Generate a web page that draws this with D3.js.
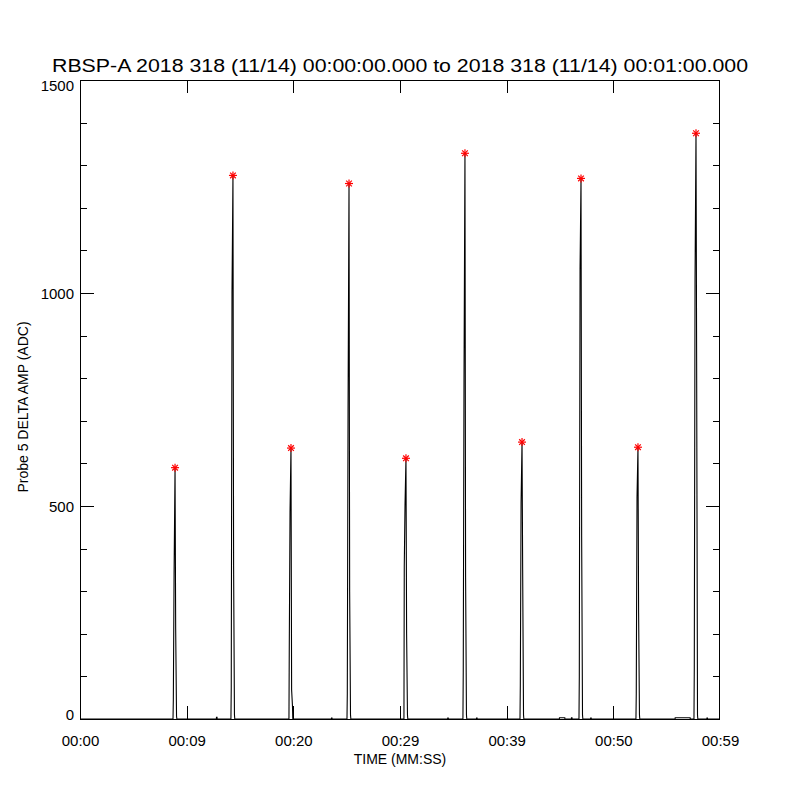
<!DOCTYPE html>
<html>
<head>
<meta charset="utf-8">
<script src="https://cdn.jsdelivr.net/npm/d3@7"></script>
<style>
  html, body { margin: 0; padding: 0; background: #fff; }
  svg text { font-family: "Liberation Sans", Arial, sans-serif; fill: #000; }
</style>
</head>
<body>
<svg id="chart" width="800" height="800"></svg>
<script>
// ---- Data ----
const titleText = "RBSP-A 2018 318 (11/14) 00:00:00.000 to 2018 318 (11/14) 00:01:00.000";
const xLabel = "TIME (MM:SS)";
const yLabel = "Probe 5 DELTA AMP (ADC)";

const xTickValues = [0, 10, 20, 30, 40, 50, 60];
const xTickLabels = ["00:00", "00:09", "00:20", "00:29", "00:39", "00:50", "00:59"];
const yMajorTicks = [0, 500, 1000, 1500];
const yMinorTicks = [100, 200, 300, 400, 600, 700, 800, 900, 1100, 1200, 1300, 1400];

// Spike events (seconds) with peak amplitude and profile levels
const peakTimes  = [8.91, 14.34, 19.78, 25.22, 30.56, 36.09, 41.44, 46.97, 52.31, 57.75];
const peakValues = [590, 1276, 636, 1257, 612, 1328, 650, 1269, 638, 1375];
const riseLow    = [45, 73, 169, 60, 357, 110, 80, 100, 60, 120];
const riseHigh   = [340, 1000, 486, 725, 502, 795, 507, 1058, 520, 1032];
const fallHigh   = [211, 361, 68, 300, 200, 333, 350, 430, 250, 840];
const fallLow    = [7, 10, 30, 10, 10, 10, 10, 10, 10, 10];

// Small baseline blips
const blipTimes  = [12.82, 23.6, 34.5, 37.2, 45.2, 46.1, 47.9, 56.5, 58.8];
const blipValues = [4, 2, 2, 2, 3, 3, 2, 3, 2];
const blipWidths = [0.05, 0.05, 0.05, 0.05, 0.5, 0.05, 0.05, 1.4, 0.05];

(function () {
  // ---- Build series ----
  const series = [[0, 0]];
  const events = [];
  peakTimes.forEach((t, i) => events.push({t, type: "spike", i}));
  blipTimes.forEach((t, i) => events.push({t, type: "blip", i}));
  events.sort((a, b) => a.t - b.t);
  events.forEach(e => {
    if (e.type === "spike") {
      const i = e.i, t = e.t;
      series.push([t - 0.19, 0]);
      series.push([t - 0.16, riseLow[i]]);
      series.push([t - 0.09, riseHigh[i]]);
      series.push([t, peakValues[i]]);
      series.push([t + 0.06, fallHigh[i]]);
      series.push([t + 0.14, fallLow[i]]);
      series.push([t + 0.17, 0]);
    } else {
      const i = e.i, t = e.t, w = blipWidths[i];
      series.push([t - w / 2 - 0.01, 0]);
      series.push([t - w / 2, blipValues[i]]);
      series.push([t + w / 2, blipValues[i]]);
      series.push([t + w / 2 + 0.01, 0]);
    }
  });
  series.push([60, 0]);

  // ---- Layout ----
  const pLeft = 80, pRight = 720, pTop = 80, pBottom = 719;
  const svg = d3.select("#chart");

  const x = d3.scaleLinear().domain([0, 60]).range([pLeft, pRight]);
  const y = d3.scaleLinear().domain([0, 1500]).range([pBottom, pTop]);

  // Data line
  svg.append("path")
    .datum(series)
    .attr("fill", "none")
    .attr("stroke", "#000")
    .attr("stroke-width", 1.1)
    .attr("d", d3.line().x(d => x(d[0])).y(d => y(d[1])));

  // Peak markers (asterisks)
  const r = 4;
  const star = svg.append("g").attr("stroke", "#ff0000").attr("stroke-width", 1.2);
  peakTimes.forEach((t, i) => {
    const cx = x(t), cy = y(peakValues[i]);
    const g = star.append("g").attr("transform", `translate(${cx},${cy})`);
    [0, 45, 90, 135].forEach(a => {
      const rad = a * Math.PI / 180;
      g.append("line")
        .attr("x1", -r * Math.cos(rad)).attr("y1", -r * Math.sin(rad))
        .attr("x2", r * Math.cos(rad)).attr("y2", r * Math.sin(rad));
    });
  });

  // Frame
  svg.append("rect")
    .attr("x", pLeft + 0.5).attr("y", pTop + 0.5)
    .attr("width", pRight - pLeft - 1).attr("height", pBottom - pTop)
    .attr("fill", "none").attr("stroke", "#000").attr("stroke-width", 1)
    .attr("shape-rendering", "crispEdges");

  function styleAxis(g) {
    g.select(".domain").remove();
    g.selectAll("line").attr("stroke", "#000").attr("shape-rendering", "crispEdges");
  }

  // Left axis: major with labels
  const gLeft = svg.append("g").attr("transform", `translate(${pLeft},0)`)
    .call(d3.axisLeft(y).tickValues(yMajorTicks).tickSize(-14).tickSizeOuter(0).tickPadding(6).tickFormat(d3.format("d")));
  styleAxis(gLeft);
  gLeft.selectAll("text")
    .attr("font-size", 15)
    .attr("dy", "0.36em")
    .attr("y", function (d) {
      const py = y(d);
      return Math.min(Math.max(py, pTop + 5), pBottom - 5) - py;
    });
  gLeft.selectAll(".tick").filter(d => d === 1500 || d === 0).select("line").remove();

  // Left minor ticks
  styleAxis(svg.append("g").attr("transform", `translate(${pLeft},0)`)
    .call(d3.axisLeft(y).tickValues(yMinorTicks).tickSize(-7).tickFormat("")));

  // Right axis
  styleAxis(svg.append("g").attr("transform", `translate(${pRight},0)`)
    .call(d3.axisRight(y).tickValues(yMajorTicks.filter(v => v > 0 && v < 1500)).tickSize(-14).tickFormat("")));
  styleAxis(svg.append("g").attr("transform", `translate(${pRight},0)`)
    .call(d3.axisRight(y).tickValues(yMinorTicks).tickSize(-7).tickFormat("")));

  // Bottom axis
  const gBottom = svg.append("g").attr("transform", `translate(0,${pBottom})`)
    .call(d3.axisBottom(x).tickValues(xTickValues).tickSize(-13).tickSizeOuter(0)
      .tickFormat((d, i) => xTickLabels[i]));
  styleAxis(gBottom);
  gBottom.selectAll("text").attr("font-size", 15).attr("y", 27).attr("dy", null);
  gBottom.selectAll(".tick").filter(d => d === 0 || d === 60).select("line").remove();

  // Top axis
  styleAxis(svg.append("g").attr("transform", `translate(0,${pTop})`)
    .call(d3.axisTop(x).tickValues(xTickValues.filter(v => v > 0 && v < 60)).tickSize(-13).tickFormat("")));

  // Titles
  svg.append("text")
    .attr("x", 400).attr("y", 72)
    .attr("text-anchor", "middle")
    .attr("font-size", 18)
    .attr("textLength", 696).attr("lengthAdjust", "spacingAndGlyphs")
    .text(titleText);

  svg.append("text")
    .attr("x", 400).attr("y", 764)
    .attr("text-anchor", "middle")
    .attr("font-size", 14)
    .text(xLabel);

  svg.append("text")
    .attr("transform", "translate(28,407) rotate(-90)")
    .attr("text-anchor", "middle")
    .attr("font-size", 14)
    .text(yLabel);
})();
</script>
</body>
</html>
